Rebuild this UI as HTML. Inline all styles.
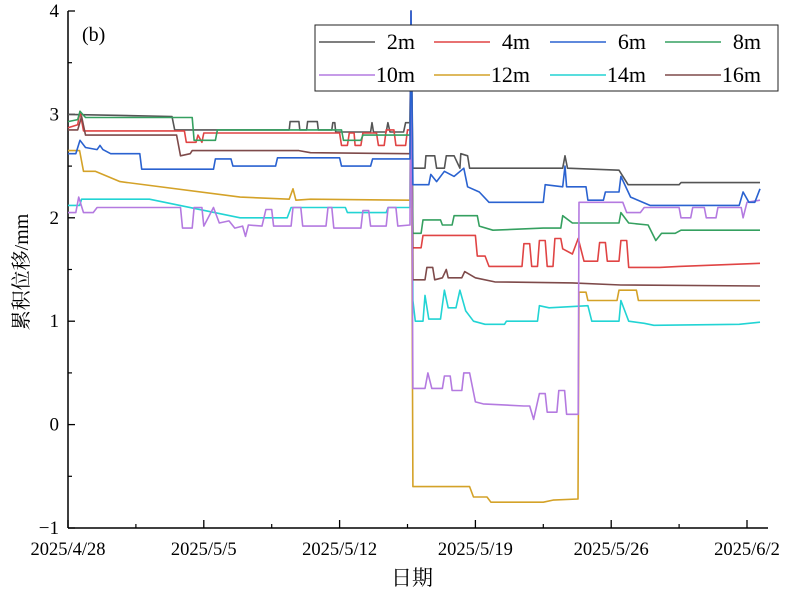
<!DOCTYPE html>
<html><head><meta charset="utf-8"><style>
html,body{margin:0;padding:0;background:#fff;}
svg{display:block;font-family:"Liberation Serif","Noto Serif CJK SC",serif;}
</style></head><body>
<svg id="chart" width="785" height="592" viewBox="0 0 785 592" xmlns="http://www.w3.org/2000/svg">
<g id="axes"></g>
<g id="series"></g>
<text x="82" y="41" font-size="20">(b)</text>
<text transform="translate(28,272) rotate(-90)" text-anchor="middle" font-size="20">累积位移/mm</text>
<text x="412" y="585" text-anchor="middle" font-size="21">日期</text>
<g id="legend"></g>
</svg>
<script>
const xTickDays = [0, 7, 14, 21, 28, 35];
const xTickLabels = ["2025/4/28", "2025/5/5", "2025/5/12", "2025/5/19", "2025/5/26", "2025/6/2"];
const yTicks = [-1, 0, 1, 2, 3, 4];
const yTickLabels = ["\u22121", "0", "1", "2", "3", "4"];
const seriesNames = ["2m", "4m", "6m", "8m", "10m", "12m", "14m", "16m"];
const seriesColors = ["#555555", "#e04444", "#2a62d0", "#35a060", "#b47ae0", "#d4a228", "#22d4d4", "#7e4a4a"];

const s2m = [[0,3.0],[5.36,2.98],[5.5,2.85],[11.4,2.85],[11.45,2.93],[11.9,2.93],[11.95,2.85],[12.3,2.85],[12.35,2.93],[12.85,2.93],[12.9,2.85],[13.6,2.85],[13.65,2.92],[13.75,2.92],[13.8,2.83],[15.6,2.83],[15.67,2.92],[15.75,2.83],[16.4,2.83],[16.49,2.92],[16.6,2.83],[17.3,2.83],[17.4,2.92],[17.63,2.92],[17.68,4.0],[17.78,2.48],[18.4,2.48],[18.45,2.6],[18.9,2.6],[19.0,2.48],[19.4,2.48],[19.5,2.6],[19.9,2.6],[20.2,2.48],[20.25,2.62],[20.6,2.6],[20.7,2.48],[25.5,2.48],[25.62,2.6],[25.75,2.48],[28.4,2.46],[28.87,2.32],[31.5,2.32],[31.6,2.34],[35.67,2.34]];
const s4m = [[0,2.87],[0.5,2.9],[0.62,3.03],[0.8,2.84],[6.0,2.84],[6.1,2.73],[6.6,2.73],[6.7,2.8],[6.9,2.73],[7.0,2.82],[14.0,2.82],[14.1,2.7],[14.4,2.7],[14.5,2.82],[14.75,2.82],[14.8,2.7],[15.1,2.7],[15.2,2.82],[15.9,2.82],[16.0,2.7],[16.3,2.7],[16.4,2.85],[16.8,2.85],[16.9,2.7],[17.4,2.7],[17.5,2.85],[17.63,2.85],[17.68,4.0],[17.78,1.71],[18.2,1.71],[18.3,1.83],[21.0,1.83],[21.1,1.63],[21.5,1.63],[21.7,1.53],[23.4,1.53],[23.5,1.75],[23.8,1.75],[23.9,1.53],[24.2,1.53],[24.3,1.78],[24.6,1.78],[24.7,1.53],[25.0,1.53],[25.1,1.8],[25.4,1.8],[25.5,1.7],[26.0,1.65],[26.3,1.8],[26.6,1.58],[27.3,1.58],[27.4,1.76],[27.7,1.76],[27.8,1.58],[28.4,1.58],[28.5,1.78],[28.8,1.78],[28.9,1.52],[30.5,1.52],[31.5,1.53],[35.67,1.56]];
const s6m = [[0,2.62],[0.4,2.62],[0.62,2.75],[0.9,2.68],[1.5,2.66],[1.65,2.7],[1.8,2.66],[2.2,2.62],[3.7,2.62],[3.8,2.47],[7.5,2.47],[7.6,2.57],[8.4,2.57],[8.5,2.5],[10.7,2.5],[10.8,2.58],[14.0,2.58],[14.1,2.5],[15.6,2.5],[15.7,2.57],[17.63,2.57],[17.68,4.0],[17.78,2.32],[18.6,2.32],[18.7,2.42],[19.0,2.35],[19.4,2.45],[19.9,2.4],[20.4,2.48],[20.6,2.3],[21.2,2.25],[21.7,2.15],[24.5,2.15],[24.6,2.32],[25.5,2.3],[25.62,2.5],[25.7,2.3],[26.7,2.3],[26.8,2.17],[27.6,2.17],[27.7,2.25],[28.4,2.25],[28.5,2.4],[29.0,2.2],[30.0,2.12],[34.6,2.12],[34.8,2.25],[35.1,2.15],[35.4,2.15],[35.67,2.28]];
const s8m = [[0,2.93],[0.5,2.95],[0.62,3.03],[0.9,2.97],[6.4,2.97],[6.5,2.75],[7.6,2.75],[7.7,2.85],[14.1,2.85],[14.2,2.75],[15.1,2.75],[15.2,2.8],[17.63,2.8],[17.68,4.0],[17.78,1.85],[18.2,1.85],[18.3,1.98],[19.2,1.98],[19.3,1.93],[19.8,1.93],[19.9,2.02],[21.1,2.02],[21.2,1.92],[21.9,1.88],[24.5,1.9],[25.4,1.9],[25.5,2.02],[26.0,1.95],[28.4,1.95],[28.5,2.05],[28.9,1.95],[29.9,1.93],[30.3,1.78],[30.6,1.85],[31.3,1.85],[31.6,1.88],[35.67,1.88]];
const s10m = [[0,2.05],[0.4,2.05],[0.55,2.2],[0.8,2.05],[1.3,2.05],[1.5,2.1],[5.8,2.1],[5.9,1.9],[6.4,1.9],[6.5,2.1],[6.9,2.1],[7.0,1.92],[7.5,2.1],[7.8,1.95],[8.3,1.97],[8.6,1.9],[9.0,1.92],[9.15,1.82],[9.3,1.93],[10.0,1.92],[10.2,2.08],[10.5,2.08],[10.6,1.92],[11.5,1.92],[11.6,2.1],[12.0,2.1],[12.1,1.92],[13.3,1.92],[13.4,2.1],[13.6,2.1],[13.7,1.9],[15.1,1.9],[15.2,2.07],[15.5,2.07],[15.6,1.92],[16.4,1.92],[16.5,2.1],[16.9,2.1],[17.0,1.92],[17.63,1.93],[17.68,4.0],[17.78,0.35],[18.4,0.35],[18.55,0.5],[18.75,0.35],[19.3,0.35],[19.4,0.47],[19.7,0.47],[19.8,0.33],[20.3,0.33],[20.4,0.5],[20.7,0.5],[21.0,0.22],[21.4,0.2],[23.5,0.18],[23.8,0.18],[24.0,0.05],[24.3,0.3],[24.6,0.3],[24.7,0.12],[25.2,0.12],[25.3,0.33],[25.6,0.33],[25.7,0.1],[26.3,0.1],[26.34,2.15],[28.6,2.15],[28.8,2.05],[29.5,2.05],[29.7,2.1],[31.5,2.1],[31.6,2.0],[32.1,2.0],[32.2,2.1],[32.8,2.1],[32.9,2.0],[33.4,2.0],[33.5,2.1],[34.7,2.1],[34.8,2.0],[35.0,2.15],[35.67,2.17]];
const s12m = [[0,2.65],[0.6,2.65],[0.8,2.45],[1.4,2.45],[2.68,2.35],[8.87,2.2],[11.4,2.18],[11.6,2.28],[11.75,2.17],[12.5,2.18],[17.63,2.17],[17.68,4.0],[17.78,-0.6],[20.7,-0.6],[20.9,-0.7],[21.6,-0.7],[21.8,-0.75],[24.5,-0.75],[25.0,-0.73],[26.29,-0.72],[26.34,1.28],[26.7,1.28],[26.8,1.2],[28.3,1.2],[28.4,1.3],[29.3,1.3],[29.4,1.2],[35.67,1.2]];
const s14m = [[0,2.12],[0.6,2.12],[0.7,2.18],[4.2,2.18],[8.87,2.0],[11.3,2.0],[11.5,2.1],[14.3,2.1],[14.4,2.05],[16.4,2.05],[16.5,2.1],[17.63,2.1],[17.68,4.0],[17.78,1.2],[17.9,1.0],[18.3,1.0],[18.4,1.25],[18.6,1.02],[19.2,1.02],[19.4,1.3],[19.6,1.13],[20.0,1.13],[20.2,1.3],[20.5,1.1],[20.9,1.0],[21.5,0.97],[22.5,0.97],[22.6,1.0],[24.2,1.0],[24.3,1.15],[24.8,1.13],[26.8,1.15],[27.0,1.0],[28.4,1.0],[28.5,1.2],[28.9,1.0],[29.7,0.98],[30.2,0.96],[34.6,0.97],[35.67,0.99]];
const s16m = [[0,2.85],[0.5,2.85],[0.7,2.98],[0.9,2.8],[5.6,2.8],[5.8,2.6],[6.3,2.62],[6.4,2.65],[11.9,2.65],[12.5,2.63],[17.63,2.62],[17.68,4.0],[17.78,1.4],[18.4,1.4],[18.5,1.52],[18.8,1.52],[18.9,1.4],[19.3,1.42],[19.5,1.5],[19.6,1.42],[20.3,1.42],[20.45,1.48],[21.0,1.42],[22.0,1.38],[26.0,1.37],[28.5,1.35],[35.67,1.34]];
const allSeries = [s2m, s4m, s6m, s8m, s10m, s12m, s14m, s16m];
const drawOrder = [0, 1, 3, 5, 6, 7, 4, 2];

const NS = "http://www.w3.org/2000/svg";
const X0 = 68, PXD = 19.4, XEND = 768;
const Y4 = 11, PXU = 103.4;
function xs(d){ return X0 + d * PXD; }
function ys(v){ return Y4 + (4 - v) * PXU; }
function mk(tag, attrs, parent){ const e = document.createElementNS(NS, tag); for (const k in attrs) e.setAttribute(k, attrs[k]); parent.appendChild(e); return e; }

const axes = document.getElementById("axes");
const yl = mk("line", {x1:X0, y1:ys(4), x2:X0, y2:ys(-1), stroke:"#000", "stroke-width":1.5}, axes);


const xl = mk("line", {x1:X0, y1:ys(-1), x2:XEND, y2:ys(-1), stroke:"#000", "stroke-width":1.5}, axes);



for (let i = 0; i < yTicks.length; i++) {
  const y = ys(yTicks[i]);
  const t = mk("line", {x1:X0, y1:y, x2:X0+7, y2:y, stroke:"#000", "stroke-width":1.3}, axes);
  
  
  if (i < yTicks.length - 1) {
    const m = mk("line", {x1:X0, y1:ys(yTicks[i]+0.5), x2:X0+4, y2:ys(yTicks[i]+0.5), stroke:"#000", "stroke-width":1.2}, axes);
    
    
  }
  const lb = mk("text", {x:X0-9, y:y+6, "text-anchor":"end", "font-size":19}, axes);
  lb.textContent = yTickLabels[i];
  
  
}
const yb = ys(-1);
for (let i = 0; i < xTickDays.length; i++) {
  const x = xs(xTickDays[i]);
  const t = mk("line", {x1:x, y1:yb, x2:x, y2:yb-8, stroke:"#000", "stroke-width":1.3}, axes);
  
  
  const mx = xs(xTickDays[i] + 3.5);
  if (mx < XEND) {
    const m = mk("line", {x1:mx, y1:yb, x2:mx, y2:yb-4, stroke:"#000", "stroke-width":1.2}, axes);
    
    
  }
  const lb = mk("text", {x:x, y:yb+27, "text-anchor":"middle", "font-size":18.5}, axes);
  lb.textContent = xTickLabels[i];
  
  
}

const sg = document.getElementById("series");
for (const s of drawOrder) {
  const pts = allSeries[s].map(p => xs(p[0]).toFixed(1) + "," + ys(p[1]).toFixed(1)).join(" ");
  const pl = mk("polyline", {points:pts, fill:"none", stroke:seriesColors[s], "stroke-width":1.6, "stroke-linejoin":"round"}, sg);
  
  
}

const lg = document.getElementById("legend");
const box = mk("rect", {x:315, y:25, width:463, height:66, fill:"#fff", stroke:"#222", "stroke-width":1}, lg);


const colLineX = [319, 434, 550, 665];
for (let i = 0; i < seriesNames.length; i++) {
  const r = Math.floor(i / 4), c = i % 4;
  const yy = r === 0 ? 42 : 75;
  const g = mk("g", {}, lg);
  
  
  mk("line", {x1:colLineX[c], y1:yy, x2:colLineX[c]+56, y2:yy, stroke:seriesColors[i], "stroke-width":1.6}, g);
  const t = mk("text", {x:colLineX[c]+96, y:yy+7, "text-anchor":"end", "font-size":22}, g);
  t.textContent = seriesNames[i];
}
</script>
</body></html>
